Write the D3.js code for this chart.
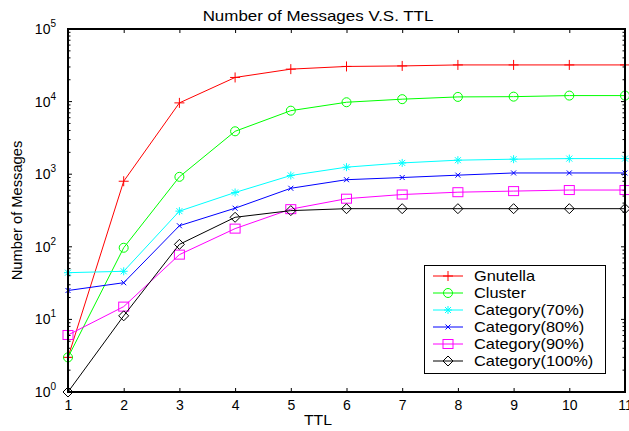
<!DOCTYPE html>
<html>
<head>
<meta charset="utf-8">
<script src="https://cdn.jsdelivr.net/npm/d3@7"></script>
<style>
body { margin: 0; background: #fff; }
text { font-family: "Liberation Sans", Arial, sans-serif; fill: #000; }
</style>
</head>
<body>
<script>
let ttl = [1, 2, 3, 4, 5, 6, 7, 8, 9, 10, 11]
let gnutella = [3, 800, 9600, 21500, 28000, 30500, 31000, 32000, 32000, 32000, 32000]
let cluster = [3, 97, 920, 3900, 7500, 9800, 10800, 11600, 11700, 12100, 12100]
let cat70 = [44, 46, 310, 560, 960, 1250, 1430, 1560, 1610, 1640, 1640]
let cat80 = [25, 32, 195, 340, 640, 840, 900, 970, 1040, 1040, 1040]
let cat90 = [6.1, 15, 78, 178, 330, 460, 525, 565, 585, 605, 605]
let cat100 = [1, 11.2, 108, 255, 315, 335, 335, 335, 335, 335, 335]
let names = ["Gnutella", "Cluster", "Category(70%)", "Category(80%)", "Category(90%)", "Category(100%)"]
let colors = ["#ff0000", "#00ff00", "#00ffff", "#0000ff", "#ff00ff", "#000000"]
let markers = ["plus", "circle", "star", "cross", "square", "diamond"]
let seriesList = [gnutella, cluster, cat70, cat80, cat90, cat100]

let w = 629, h = 431
let pLeft = 68, pRight = 625, pTop = 29, pBottom = 392
let stretch = 1.13

let svg = d3.select("body").append("svg")
    .attr("width", w)
    .attr("height", h)

let xScale = d3.scaleLinear().domain([1, 11]).range([pLeft, pRight])
let yScale = d3.scaleLog().domain([1, 1e5]).range([pBottom, pTop])

// markers
function drawMarker(g, type, x, y, color) {
    if (type == "plus") {
        g.append("path").attr("d", `M${x-5},${y}H${x+5}M${x},${y-5}V${y+5}`)
            .attr("stroke", color).attr("fill", "none")
    } else if (type == "circle") {
        g.append("circle").attr("cx", x).attr("cy", y).attr("r", 4.5)
            .attr("stroke", color).attr("fill", "none")
    } else if (type == "star") {
        g.append("path").attr("d", `M${x-4},${y}H${x+4}M${x},${y-4}V${y+4}M${x-3},${y-3}L${x+3},${y+3}M${x-3},${y+3}L${x+3},${y-3}`)
            .attr("stroke", color).attr("fill", "none")
    } else if (type == "cross") {
        g.append("path").attr("d", `M${x-2.5},${y-2.5}L${x+2.5},${y+2.5}M${x-2.5},${y+2.5}L${x+2.5},${y-2.5}`)
            .attr("stroke", color).attr("fill", "none")
    } else if (type == "square") {
        g.append("rect").attr("x", x-5).attr("y", y-4.5).attr("width", 10).attr("height", 9)
            .attr("stroke", color).attr("fill", "none")
    } else if (type == "diamond") {
        g.append("path").attr("d", `M${x},${y-5}L${x+5},${y}L${x},${y+5}L${x-5},${y}Z`)
            .attr("stroke", color).attr("fill", "none")
    }
}

// text stretched a little wider, like the picture
function wideText(x, y, str, size, anchor, rot) {
    return svg.append("text")
        .attr("transform", `translate(${x},${y})` + (rot ? ` rotate(${rot})` : "") + ` scale(${stretch},1)`)
        .attr("text-anchor", anchor).attr("font-size", size).text(str)
}

// axis frame ticks
let xAxisB = d3.axisBottom(xScale).tickValues(ttl).tickSize(-4).tickSizeOuter(0).tickPadding(8)
let xAxisT = d3.axisTop(xScale).tickValues(ttl).tickSize(-4).tickSizeOuter(0).tickFormat("")
let minorTicks = []
for (let e = 0; e < 5; e++) for (let k = 2; k < 10; k++) minorTicks.push(k * Math.pow(10, e))
let majors = [1, 10, 100, 1000, 10000, 100000]

let gx = svg.append("g").attr("transform", `translate(0,${pBottom})`).call(xAxisB)
gx.selectAll("text").attr("font-size", 14).attr("fill", "#000")
    .style("font-family", "Liberation Sans, Arial, sans-serif")
svg.append("g").attr("transform", `translate(0,${pTop})`).call(xAxisT)

function yTicks(x, dir) {
    let g = svg.append("g")
    g.selectAll(".mj").data(majors).enter().append("line")
        .attr("x1", x).attr("x2", x + dir * 4)
        .attr("y1", d => yScale(d)).attr("y2", d => yScale(d))
        .attr("stroke", "#000")
    g.selectAll(".mn").data(minorTicks).enter().append("line")
        .attr("x1", x).attr("x2", x + dir * 2.5)
        .attr("y1", d => yScale(d)).attr("y2", d => yScale(d))
        .attr("stroke", "#000")
}
yTicks(pLeft, 1)
yTicks(pRight, -1)

svg.selectAll(".domain").remove()
svg.selectAll(".tick line").attr("stroke", "#000")

// y labels
let yl = svg.append("g")
majors.forEach((d, i) => {
    let t = yl.append("text").attr("x", pLeft - 12).attr("y", yScale(d) + 5)
        .attr("text-anchor", "end").attr("font-size", 14)
    t.append("tspan").text("10")
    t.append("tspan").attr("dy", -7).attr("font-size", 10).text(i)
})

// series
let line = d3.line().x((d, i) => xScale(ttl[i])).y(d => yScale(d))
seriesList.forEach((s, i) => {
    svg.append("path").datum(s).attr("d", line)
        .attr("fill", "none").attr("stroke", colors[i]).attr("stroke-width", 1)
    let mg = svg.append("g")
    s.forEach((v, j) => drawMarker(mg, markers[i], xScale(ttl[j]), yScale(v), colors[i]))
})

// frame
svg.append("rect").attr("x", pLeft).attr("y", pTop).attr("width", pRight - pLeft).attr("height", pBottom - pTop)
    .attr("fill", "none").attr("stroke", "#000").attr("stroke-width", 2)

// legend
let lg = svg.append("g")
lg.append("rect").attr("x", 424.5).attr("y", 265.5).attr("width", 181).attr("height", 108)
    .attr("fill", "#fff").attr("stroke", "#000")
names.forEach((n, i) => {
    let y = 276 + i * 17
    lg.append("line").attr("x1", 433).attr("x2", 463).attr("y1", y).attr("y2", y)
        .attr("stroke", colors[i])
    drawMarker(lg, markers[i], 448, y, colors[i])
    wideText(474, y + 5, n, 14.5, "start")
})

// titles
wideText(318, 20.5, "Number of Messages V.S. TTL", 15, "middle")
wideText(318, 425, "TTL", 14, "middle")
svg.append("text").attr("transform", `translate(22,${(pTop + pBottom) / 2}) rotate(-90) scale(1.05,1)`)
    .attr("text-anchor", "middle").attr("font-size", 14).text("Number of Messages")
</script>
</body>
</html>
